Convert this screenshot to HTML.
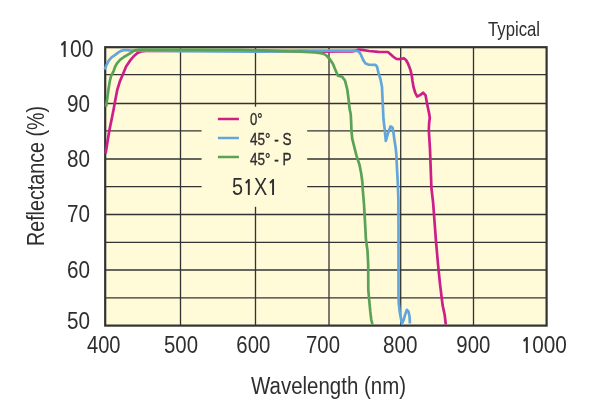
<!DOCTYPE html>
<html><head><meta charset="utf-8"><title>Reflectance 51X1</title>
<style>
html,body{margin:0;padding:0;background:#fff;}
body{width:600px;height:414px;overflow:hidden;}
svg{display:block;}
text{font-family:"Liberation Sans",sans-serif;fill:#2e2e2e;}
.one{font-family:"NanumGothic","Liberation Sans",sans-serif;font-weight:bold;font-size:0.9em;}
.leg text{stroke:#2e2e2e;stroke-width:0.35px;}
</style></head>
<body>
<svg width="600" height="414" viewBox="0 0 600 414" xmlns="http://www.w3.org/2000/svg">
<rect x="0" y="0" width="600" height="414" fill="#ffffff"/>
<!-- plot background -->
<rect x="105.2" y="47.1" width="441.4" height="278.5" fill="#fffad8"/>
<!-- grid -->
<g stroke="#333" stroke-width="1.3" fill="none">
<line x1="105" y1="74.7" x2="546" y2="74.7"/>
<line x1="105" y1="103.5" x2="546" y2="103.5"/>
<line x1="105" y1="130.8" x2="546" y2="130.8"/>
<line x1="105" y1="159.0" x2="546" y2="159.0"/>
<line x1="105" y1="186.7" x2="546" y2="186.7"/>
<line x1="105" y1="214.5" x2="546" y2="214.5"/>
<line x1="105" y1="242.3" x2="546" y2="242.3"/>
<line x1="105" y1="270.0" x2="546" y2="270.0"/>
<line x1="105" y1="297.8" x2="546" y2="297.8"/>
<line x1="180.5" y1="47" x2="180.5" y2="325"/>
<line x1="255.5" y1="47" x2="255.5" y2="325"/>
<line x1="329" y1="47" x2="329" y2="325"/>
<line x1="400.7" y1="47" x2="400.7" y2="325"/>
<line x1="473.5" y1="47" x2="473.5" y2="325"/>
</g>
<!-- legend box -->
<rect x="201.6" y="106.7" width="105.6" height="100.1" fill="#fffad8"/>
<!-- frame -->
<rect x="105.2" y="47.2" width="441.4" height="278.4" fill="none" stroke="#333" stroke-width="2.2"/>
<!-- curves -->
<g fill="none" stroke-width="2.7" stroke-linejoin="round" stroke-linecap="butt">
<polyline stroke="#cc1f88" points="105.6,153.5 109.3,130.7 113.5,110 115.5,99 117.4,89.3 119.8,81.6 122.7,74.8 126.1,66.5 130,60.7 134,56 137.5,53 141,51.5 146,51 152,50.8 200,50.6 300,51.2 320,51.7 340,51.4 352,51.3 355,50.9 358,49.7 362,49.8 369,51 378.4,51.9 387.8,52 390,53.8 393,56.5 396.5,59 400,59.2 403.8,58.2 406,60 408,63.5 410.3,69.5 411.7,75.3 412.5,81 413.5,87 415.3,93 417.1,96.5 420.1,95.1 423.1,92.7 425.5,95.1 426.7,101.7 427.9,107.8 429.2,113.8 429.8,118 429.2,122.3 428.8,130 430,149.2 430.7,168.5 431.4,187.8 433.1,202.3 434.4,220 436,241.3 438.1,265.2 440,283.8 442.6,305.1 444.7,315 445.8,324.5"/>
<polyline stroke="#62a6dc" points="104.7,69.4 106.5,65 108.7,60.7 111.6,57.4 115.2,54.9 118.1,52.7 121,50.9 124.6,50 130,50.3 180,51.2 220,51.3 260,51.6 280,51.3 300,50.6 356,50.7 358.5,51.4 360.3,53.5 361.9,57 363.5,60.6 365.6,63.6 368.3,64.6 375.5,64.9 377,66.6 378.4,72.4 380.6,79.7 382,87 382.7,102.7 383.5,119.7 384.7,129.3 385.8,140.9 388,133.2 390.5,126.4 392.4,127.4 393.4,132.2 394.3,139 395.5,146.7 396.3,154 397,169 397.8,183 398.4,200 398.5,225 398.5,260 398.5,295 398.8,303.5 399.7,311.9 401,318.7 401.8,323.5 403.5,320.4 405.2,314.4 406.9,309.8 408.6,311.9 409.6,317 409.9,323.5"/>
<polyline stroke="#5aa257" points="106,106.7 107.2,99 108.5,89.3 109.7,81.6 111.1,75.8 113.5,71.4 115.2,66.5 117.4,62.8 120.3,59.6 123.9,57 127.5,54.9 130,53.4 133,51.3 136,50.1 140,49.7 240,49.8 270,50.6 300,51.7 315,52.4 321,53.2 324,54 327,56 330,59.5 333,64 335,69 337.9,75.7 342.2,76.7 345.1,80.8 347.3,89.5 348.8,101.1 349.5,108.3 350.7,114.1 351.2,122.8 351.4,130 352.2,138.7 354.4,147.4 356.6,156.1 359.5,164.8 361.2,173.5 362.4,182.2 362.8,190 364,204.3 365.1,223.6 365.9,239.1 367.5,250.7 368.2,265 368.3,290 369.2,300 370.3,311.7 371.3,320 372.5,324.5"/>
</g>
<!-- legend -->
<g stroke-width="2.5">
<line x1="217.9" y1="119" x2="238.9" y2="119" stroke="#cc1f88"/>
<line x1="217.9" y1="138" x2="238.9" y2="138" stroke="#62a6dc"/>
<line x1="217.9" y1="157" x2="238.9" y2="157" stroke="#5aa257"/>
</g>
<g class="leg" font-size="17">
<text x="250" y="125" textLength="12.5" lengthAdjust="spacingAndGlyphs">0°</text>
<text x="250" y="145" textLength="41.5" lengthAdjust="spacingAndGlyphs">45° - S</text>
<text x="250" y="164.6" textLength="41.5" lengthAdjust="spacingAndGlyphs">45° - P</text>
</g>
<text x="232" y="194.5" font-size="23.5" textLength="46" lengthAdjust="spacingAndGlyphs">5<tspan class="one">1</tspan>X<tspan class="one">1</tspan></text>
<!-- y labels -->
<g font-size="24">
<text x="58.5" y="56.5" textLength="35" lengthAdjust="spacingAndGlyphs"><tspan class="one">1</tspan>00</text>
<text x="67" y="111.7" textLength="23" lengthAdjust="spacingAndGlyphs">90</text>
<text x="67" y="166.7" textLength="23" lengthAdjust="spacingAndGlyphs">80</text>
<text x="67" y="221.7" textLength="23" lengthAdjust="spacingAndGlyphs">70</text>
<text x="67" y="277.7" textLength="23" lengthAdjust="spacingAndGlyphs">60</text>
<text x="67" y="328.7" textLength="23" lengthAdjust="spacingAndGlyphs">50</text>
</g>
<!-- x labels -->
<g font-size="24">
<text x="87" y="352.5" textLength="33.5" lengthAdjust="spacingAndGlyphs">400</text>
<text x="164" y="352.5" textLength="34" lengthAdjust="spacingAndGlyphs">500</text>
<text x="236.3" y="352.5" textLength="34" lengthAdjust="spacingAndGlyphs">600</text>
<text x="306" y="352.5" textLength="34" lengthAdjust="spacingAndGlyphs">700</text>
<text x="383" y="352.5" textLength="34.5" lengthAdjust="spacingAndGlyphs">800</text>
<text x="456.3" y="352.5" textLength="34" lengthAdjust="spacingAndGlyphs">900</text>
<text x="520.8" y="352.5" textLength="46" lengthAdjust="spacingAndGlyphs"><tspan class="one">1</tspan>000</text>
</g>
<text x="251" y="393.7" font-size="24.7" textLength="155" lengthAdjust="spacingAndGlyphs">Wavelength (nm)</text>
<text transform="translate(44.2,246) rotate(-90)" x="0" y="0" font-size="24.7" textLength="140" lengthAdjust="spacingAndGlyphs">Reflectance (%)</text>
<text x="488" y="36" font-size="20.3" textLength="52" lengthAdjust="spacingAndGlyphs">Typical</text>
</svg>
</body></html>
